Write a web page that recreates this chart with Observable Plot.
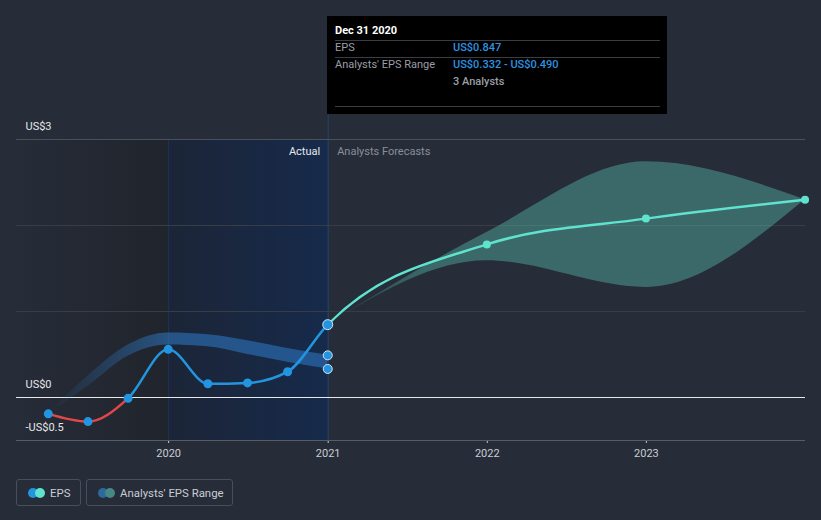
<!DOCTYPE html>
<html>
<head>
<meta charset="utf-8">
<script src="https://cdn.jsdelivr.net/npm/d3@7"></script>
<script src="https://cdn.jsdelivr.net/npm/@observablehq/plot@0.6"></script>
<style>
  html, body { margin: 0; padding: 0; background: #262c38; }
  #wrap { position: relative; width: 821px; height: 520px; font-family: Roboto, "Noto Sans", sans-serif; }
  #tip { position: absolute; left: 327px; top: 16px; width: 340px; height: 98px; background: #000; color: #fff; font-size: 11px; }
  #tip .row { position: absolute; left: 8px; right: 8px; }
  #tip .lab { position: absolute; left: 0; color: #9a9ea6; }
  #tip .val { position: absolute; left: 118px; color: #2d93e0; font-weight: 500; }
  #tip .sep { position: absolute; left: 8px; right: 7px; height: 1px; background: #3a3d44; }
  .leg { position: absolute; top: 479px; height: 27px; border: 1px solid #474e5c; border-radius: 3px; box-sizing: border-box; color: #c9cdd4; font-size: 11.4px; }
  .leg span.t { position: absolute; top: 6px; }
  .dot { position: absolute; top: 8px; width: 10px; height: 10px; border-radius: 50%; }
</style>
</head>
<body>
<div id="wrap">
  <div id="chart"></div>
  <div id="tip">
    <div class="row" style="top:8px;font-weight:700;color:#fff">Dec 31 2020</div>
    <div class="sep" style="top:24px"></div>
    <div class="row" style="top:25px"><span class="lab">EPS</span><span class="val">US$0.847</span></div>
    <div class="sep" style="top:41px"></div>
    <div class="row" style="top:42px"><span class="lab">Analysts' EPS Range</span><span class="val">US$0.332 - US$0.490</span></div>
    <div class="row" style="top:59px"><span class="val" style="color:#9a9ea6">3 Analysts</span></div>
    <div class="sep" style="top:90px"></div>
  </div>
  <div class="leg" style="left:16px;width:65px">
    <div class="dot" style="left:11px;background:#2394df"></div>
    <div class="dot" style="left:18px;background:#5fe3cf"></div>
    <span class="t" style="left:33px">EPS</span>
  </div>
  <div class="leg" style="left:86px;width:147px">
    <div class="dot" style="left:11px;background:#2c6a9e"></div>
    <div class="dot" style="left:18px;background:#468884"></div>
    <span class="t" style="left:33px">Analysts' EPS Range</span>
  </div>
</div>
<script>
// ---- data ----
const actualDates = ["2019-03-31","2019-06-30","2019-09-30","2019-12-31","2020-03-31","2020-06-30","2020-09-30","2020-12-31"];
const epsActual   = [-0.19, -0.28, -0.01, 0.56, 0.16, 0.17, 0.30, 0.847];
const pastRangeLow  = [-0.19, 0.13, 0.48, 0.61, 0.59, 0.50, 0.41, 0.332];
const pastRangeHigh = [-0.19, 0.25, 0.61, 0.75, 0.73, 0.66, 0.57, 0.490];

const forecastDates = ["2020-12-31","2021-12-31","2022-12-31","2023-12-31"];
const epsForecast   = [0.847, 1.78, 2.08, 2.30];
const forecastLow   = [0.847, 1.59, 1.28, 2.30];
const forecastHigh  = [0.847, 1.92, 2.74, 2.30];

const highlightRange = [0.332, 0.490];
const xTickYears = ["2020-01-01","2021-01-01","2022-01-01","2023-01-01"];
const yLabelValues = [3, 0, -0.5];
const yLabels = ["US$3", "US$0", "-US$0.5"];
const gridValues = [1, 2];
const xDomain = ["2019-01-17", "2024-01-01"];
const regionBounds = ["2019-01-17", "2020-01-01", "2021-01-01"];

// ---- tables ----
const D = s => new Date(s + "T00:00:00Z");
const actual = actualDates.map((d, i) => ({date: D(d), eps: epsActual[i], lo: pastRangeLow[i], hi: pastRangeHigh[i]}));
const forecast = forecastDates.map((d, i) => ({date: D(d), eps: epsForecast[i], lo: forecastLow[i], hi: forecastHigh[i]}));
const allEps = actual.concat(forecast.slice(1));
const regions = [
  {x1: D(regionBounds[0]), x2: D(regionBounds[1]), fill: "url(#leftShade)"},
  {x1: D(regionBounds[1]), x2: D(regionBounds[2]), fill: "url(#pastShade)"}
];
const lastActual = actual[actual.length - 1];

const lineOpts = {x: "date", y: "eps", curve: "monotone-x", strokeWidth: 2.5};

const plot = Plot.plot({
  width: 821,
  height: 470,
  marginLeft: 16,
  marginRight: 16,
  marginTop: 139,
  marginBottom: 30,
  style: {background: "transparent", color: "#c9cdd4", fontFamily: "Roboto, 'Noto Sans', sans-serif", fontSize: "11px", overflow: "visible"},
  x: {type: "utc", domain: xDomain.map(D), ticks: xTickYears.map(D), tickFormat: d3.utcFormat("%Y"), tickSize: 3, tickPadding: 6, label: null},
  y: {domain: [-0.5, 3], axis: null},
  marks: [
    Plot.rect(regions, {x1: "x1", x2: "x2", y1: -0.5, y2: 3, fill: d => d.fill}),
    Plot.ruleX([D(regionBounds[1])], {y1: -0.5, y2: 3, stroke: "#1f3456", strokeWidth: 1}),
    Plot.ruleX([D(regionBounds[2])], {y1: -0.5, y2: 3.3, stroke: "#26446e", strokeWidth: 1}),
    Plot.ruleY(gridValues, {stroke: "#363c48", strokeWidth: 1}),
    Plot.ruleY([3], {stroke: "#4a505c", strokeWidth: 1}),
    Plot.ruleY([-0.5], {stroke: "#565c68", strokeWidth: 1}),
    Plot.ruleY([0], {stroke: "#e6e8ea", strokeWidth: 1}),
    Plot.text(yLabelValues, {y: d => d, text: (d, i) => yLabels[i], frameAnchor: "left", textAnchor: "start", dx: 9, dy: -13, fill: "#e6e8ea", fontSize: 11}),
    Plot.text(["Actual"], {x: D(regionBounds[2]), y: 3, text: d => d, textAnchor: "end", dx: -8, dy: 12, fill: "#e6e8ea", fontSize: 11}),
    Plot.text(["Analysts Forecasts"], {x: D(regionBounds[2]), y: 3, text: d => d, textAnchor: "start", dx: 9, dy: 12, fill: "#8a8f99", fontSize: 11}),
    // past analysts range band
    Plot.areaY(actual, {x: "date", y1: "lo", y2: "hi", curve: "monotone-x", fill: "url(#histBand)"}),
    // forecast range band
    Plot.areaY(forecast, {x: "date", y1: "lo", y2: "hi", curve: "monotone-x", fill: "url(#fcBand)"}),
    // EPS line: blue (actual, >= 0), red (< 0), teal (forecast)
    Plot.line(allEps, {...lineOpts, stroke: "#2394df", ariaDescription: "pos"}),
    Plot.line(allEps, {...lineOpts, stroke: "#e24848", ariaDescription: "neg"}),
    Plot.line(allEps, {...lineOpts, stroke: "#5fe3cf", ariaDescription: "fc"}),
    Plot.dot(actual.slice(0, -1), {x: "date", y: "eps", r: 4.5, fill: "#2394df"}),
    Plot.dot(forecast.slice(1), {x: "date", y: "eps", r: 4, fill: "#5fe3cf"}),
    Plot.dot(highlightRange, {x: lastActual.date, y: d => d, r: 4.5, fill: "#2394df", stroke: "#d6e6f5", strokeWidth: 1}),
    Plot.dot([lastActual], {x: "date", y: "eps", r: 5, fill: "#2394df", stroke: "#d6e6f5", strokeWidth: 1})
  ]
});

document.getElementById("chart").appendChild(plot);

// gradients & clips
const xs = plot.scale("x"), ys = plot.scale("y");
const svg = d3.select(plot);
const defs = svg.insert("defs", ":first-child");
function grad(id, xa, xb, stops) {
  const g = defs.append("linearGradient").attr("id", id).attr("gradientUnits", "userSpaceOnUse")
    .attr("x1", xs.apply(xa)).attr("x2", xs.apply(xb)).attr("y1", 0).attr("y2", 0);
  stops.forEach(([o, c, a]) => g.append("stop").attr("offset", o).attr("stop-color", c).attr("stop-opacity", a));
}
grad("leftShade", D(regionBounds[0]), D(regionBounds[1]), [[0, "#262c38", 1], [1, "#20242c", 1]]);
grad("pastShade", D(regionBounds[1]), D(regionBounds[2]), [[0, "#1c2537", 1], [1, "#162a4b", 1]]);
grad("histBand", actual[0].date, actual[3].date, [[0, "#2f7fd0", 0], [1, "#2f7fd0", 0.52]]);
grad("fcBand", forecast[0].date, forecast[1].date, [[0, "#64e0c8", 0.08], [0.6, "#64e0c8", 0.33], [1, "#64e0c8", 0.34]]);

const x21 = xs.apply(D(regionBounds[2])), y0 = ys.apply(0);
function clip(id, x, y, w, h) {
  defs.append("clipPath").attr("id", id).append("rect").attr("x", x).attr("y", y).attr("width", w).attr("height", h);
}
clip("posClip", 0, 0, x21, y0);
clip("negClip", 0, y0, 821, 470);
clip("fcClip", x21, 0, 821, 470);
svg.select('g[aria-description="pos"]').attr("clip-path", "url(#posClip)");
svg.select('g[aria-description="neg"]').attr("clip-path", "url(#negClip)");
svg.select('g[aria-description="fc"]').attr("clip-path", "url(#fcClip)");
</script>
</body>
</html>
